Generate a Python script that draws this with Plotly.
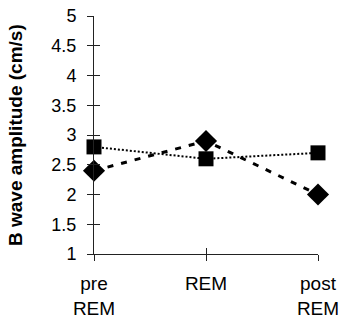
import plotly.graph_objects as go

categories = ["pre<br>REM", "REM", "post<br>REM"]
diamond_values = [2.4, 2.9, 2.0]
square_values = [2.8, 2.6, 2.7]
y_ticks = [1, 1.5, 2, 2.5, 3, 3.5, 4, 4.5, 5]
y_tick_labels = ["1", "1.5", "2", "2.5", "3", "3.5", "4", "4.5", "5"]
y_title = "B wave amplitude (cm/s)"

xpos = list(range(len(categories)))

W, H = 342, 327
ML, MR, MT, MB = 94, 24, 16, 73

fig = go.Figure()
fig.add_trace(go.Scatter(
    x=xpos, y=diamond_values, mode="lines+markers",
    line=dict(color="black", width=3, dash="6px,8px"),
    marker=dict(symbol="diamond", size=17, color="black"),
    showlegend=False, cliponaxis=False))
fig.add_trace(go.Scatter(
    x=xpos, y=square_values, mode="lines+markers",
    line=dict(color="black", width=2, dash="2px,2px"),
    marker=dict(symbol="square", size=15, color="black"),
    showlegend=False, cliponaxis=False))

axis_common = dict(showgrid=False, zeroline=False, showline=True,
                   linecolor="#222", linewidth=1, tickcolor="#222",
                   tickwidth=1, ticklen=6, automargin=False)

fig.update_layout(
    width=W, height=H,
    margin=dict(l=ML, r=MR, t=MT, b=MB),
    paper_bgcolor="white", plot_bgcolor="white",
    font=dict(family="Liberation Sans, Arial", color="black"),
    xaxis=dict(range=[0, 2], tickmode="array", tickvals=xpos,
               ticktext=categories, ticks="outside",
               tickfont=dict(size=19), ticklabelstandoff=6, **axis_common),
    yaxis=dict(range=[1, 5], tickmode="array", tickvals=y_ticks,
               ticktext=y_tick_labels, ticks="outside",
               tickfont=dict(size=18), ticklabelstandoff=7,
               **axis_common),
    xaxis2=dict(range=[0, 2], overlaying="x", tickmode="array",
                tickvals=xpos, ticks="inside", showticklabels=False,
                anchor="y", side="bottom", **axis_common),
    yaxis2=dict(range=[1, 5], overlaying="y", tickmode="array",
                tickvals=y_ticks, ticks="inside", showticklabels=False,
                anchor="x", side="left", **axis_common),
)
fig.add_trace(go.Scatter(x=[0], y=[1], xaxis="x2", yaxis="y2",
                         mode="markers", marker=dict(opacity=0),
                         showlegend=False, hoverinfo="skip"))

plot_w = W - ML - MR
fig.add_annotation(
    text="<b>" + y_title + "</b>", textangle=-90,
    xref="paper", yref="paper", x=(15 - ML) / plot_w, y=0.5,
    xanchor="center", yanchor="middle", showarrow=False,
    font=dict(size=19, color="black"))

fig.write_html("out.html", config={"displayModeBar": False},
               post_script="document.body.style.margin='0';")
